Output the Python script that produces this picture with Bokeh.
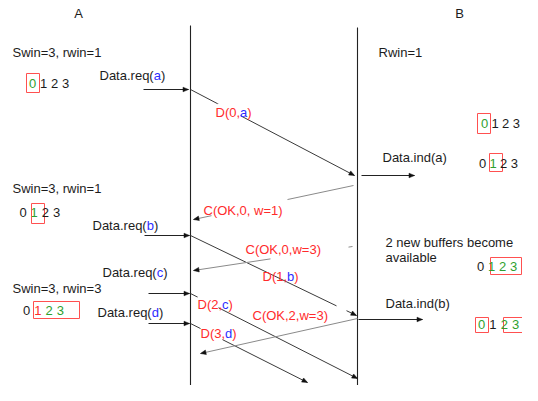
import math
from bokeh.plotting import figure
from bokeh.models import Range1d, ColumnDataSource
from bokeh.core.properties import value
from bokeh.embed import file_html
from bokeh.resources import INLINE

# ---------------- content ----------------
lifeline_names = ["A", "B"]
lifeline_x = [190, 357]
lifeline_top = [25, 27]
lifeline_bottom = [398, 402]
name_x = [78, 459]
name_y = [13, 13]

note_text = ["Swin=3, rwin=1", "Rwin=1", "Swin=3, rwin=1",
             "2 new buffers become", "available", "Swin=3, rwin=3"]
note_x = [12, 378, 12, 385, 385, 12]
note_y = [52, 52, 188, 241.5, 257, 288]

# service primitives: {x} marks the blue argument
prim_text = ["Data.req({a})", "Data.ind(a)", "Data.req({b})",
             "Data.req({c})", "Data.ind(b)", "Data.req({d})"]
prim_tx = [99, 382, 92, 102, 385, 97]
prim_ty = [75, 157, 224.5, 272, 303, 312]
prim_x0 = [143, 361, 144, 148, 358, 148]
prim_x1 = [188, 414, 189, 189, 422, 189]
prim_y = [89, 175, 235, 293, 319, 323]

# protocol messages between the lifelines
msg_label = ["D(0,{a})", "C(OK,0, w=1)", "C(OK,0,w=3)", "D(1,{b})",
             "D(2,{c})", "C(OK,2,w=3)", "D(3,{d})"]
msg_kind = ["D", "C", "C", "D", "D", "C", "D"]
msg_x0 = [190, 353, 352, 190, 190, 357, 190]
msg_y0 = [89, 185, 246, 235, 293, 318, 323]
msg_x1 = [354, 193, 193, 356, 357, 200, 307]
msg_y1 = [175, 219, 270, 315, 378, 353, 382]
label_x = [215, 203, 245, 262, 197, 252, 200]
label_y = [112, 210, 248.5, 275.5, 303.5, 315, 332.5]

# opaque label boxes hiding parts of the lines (left, right, top, bottom)
mask_l = [217, 211, 270, 336, 197, 200]
mask_r = [240, 287, 348, 346, 218, 222]
mask_t = [103, 196, 239, 302, 296, 326]
mask_b = [120, 224, 262, 314, 311, 341]

# sequence-number windows: colour code per digit (k black, g green, r red)
row_x0 = [32, 22.5, 26, 484, 482, 480, 481]
row_step = [11, 11.2, 11.3, 10.6, 10.6, 11, 11.4]
row_y = [83, 212, 310, 123, 163, 266, 324]
row_colors = ["gkkk", "kgkk", "krgg", "gkkk", "kgkk", "kggg", "gkgg"]
box_l = [26, 31, 33, 477, 489, 490, 475, 503]
box_r = [39, 44, 79, 490, 502, 521, 488, 540]
box_t = [73, 203, 301, 113, 153, 257, 317, 317]
box_b = [92, 223, 318, 133, 171, 274, 332, 332]
digits = ["0", "1", "2", "3"]

# ---------------- styling ----------------
FONT = value("Liberation Sans")
SIZE = 13
BLACK = "#1c1c1c"
RED = "#ff2b2b"
BLUE = "#2d2dff"
GREEN = "#2f9f2f"
BOXRED = "#ff5050"
COLMAP = {"k": BLACK, "g": GREEN, "r": RED}

W = {' ': 278, '(': 333, ')': 333, ',': 278, '.': 278, '=': 584,
     'C': 722, 'D': 722, 'K': 667, 'O': 778, 'a': 556, 'b': 556, 'c': 500,
     'd': 556, 'e': 556, 'i': 222, 'n': 556, 'q': 556, 'r': 333, 't': 278,
     'w': 722}
for dch in "0123456789":
    W[dch] = 556


def width(s):
    return sum(W.get(ch, 556) for ch in s) * SIZE / 1000.0


def split_markup(markup, base, accent):
    parts, buf = [], ""
    for ch in markup:
        if ch == "{":
            if buf:
                parts.append((buf, base))
            buf = ""
        elif ch == "}":
            parts.append((buf, accent))
            buf = ""
        else:
            buf += ch
    if buf:
        parts.append((buf, base))
    return parts


def head(x0, y0, x1, y1, length=5.5, half=2.3):
    dx, dy = x1 - x0, y1 - y0
    n = math.hypot(dx, dy)
    ux, uy = dx / n, dy / n
    bx, by = x1 - ux * length, y1 - uy * length
    return ([x1, bx - uy * half, bx + uy * half],
            [y1, by + ux * half, by - ux * half])


p = figure(width=522, height=385, x_range=Range1d(0, 522), y_range=Range1d(385, 0),
           output_backend="svg", toolbar_location=None, min_border=0)
p.axis.visible = False
p.grid.visible = False
p.outline_line_color = None
p.background_fill_color = "white"
p.border_fill_color = "white"

# lifelines
p.segment(lifeline_x, lifeline_top, lifeline_x, lifeline_bottom, line_color="#222222", line_width=1.1)

# primitive arrows
p.segment(prim_x0, prim_y, prim_x1, prim_y, line_color="#222222", line_width=1)

# message lines
d_idx = [i for i, k in enumerate(msg_kind) if k == "D"]
c_idx = [i for i, k in enumerate(msg_kind) if k == "C"]
p.segment([msg_x0[i] for i in d_idx], [msg_y0[i] for i in d_idx],
          [msg_x1[i] for i in d_idx], [msg_y1[i] for i in d_idx],
          line_color="#3a3a3a", line_width=1)
p.segment([msg_x0[i] for i in c_idx], [msg_y0[i] for i in c_idx],
          [msg_x1[i] for i in c_idx], [msg_y1[i] for i in c_idx],
          line_color="#8a8a8a", line_width=1)

# arrowheads
hx, hy = [], []
for x0, x1, y in zip(prim_x0, prim_x1, prim_y):
    a, b = head(x0, y, x1, y)
    hx.append(a); hy.append(b)
for x0, y0, x1, y1 in zip(msg_x0, msg_y0, msg_x1, msg_y1):
    a, b = head(x0, y0, x1, y1)
    hx.append(a); hy.append(b)
p.patches(hx, hy, fill_color="#111111", line_color="#111111", line_width=0.5)

# masks (opaque text boxes)
p.quad(left=mask_l, right=mask_r, top=mask_t, bottom=mask_b,
       fill_color="white", line_color=None)

# window boxes
p.quad(left=box_l, right=box_r, top=box_t, bottom=box_b,
       fill_color=None, line_color=BOXRED, line_width=1)

# collect texts
tx, ty, tt, tc = [], [], [], []
for s, x, y in zip(note_text, note_x, note_y):
    tx.append(x); ty.append(y); tt.append(s); tc.append(BLACK)
for s, x, y in zip(prim_text, prim_tx, prim_ty):
    cx = x
    for seg, col in split_markup(s, BLACK, BLUE):
        tx.append(cx); ty.append(y); tt.append(seg); tc.append(col)
        cx += width(seg)
for s, x, y in zip(msg_label, label_x, label_y):
    cx = x
    for seg, col in split_markup(s, RED, BLUE):
        tx.append(cx); ty.append(y); tt.append(seg); tc.append(col)
        cx += width(seg)

src = ColumnDataSource(dict(x=tx, y=ty, text=tt, color=tc))
p.text(x="x", y="y", text="text", text_color="color", source=src,
       text_font=FONT, text_font_size=f"{SIZE}px",
       text_align="left", text_baseline="middle")

# digit rows
dx_, dy_, dt_, dc_ = [], [], [], []
for x0, st, y, cols in zip(row_x0, row_step, row_y, row_colors):
    for i, (dg, cc) in enumerate(zip(digits, cols)):
        dx_.append(x0 + i * st); dy_.append(y); dt_.append(dg); dc_.append(COLMAP[cc])
dsrc = ColumnDataSource(dict(x=dx_, y=dy_, text=dt_, color=dc_))
p.text(x="x", y="y", text="text", text_color="color", source=dsrc,
       text_font=FONT, text_font_size=f"{SIZE}px",
       text_align="center", text_baseline="middle")

# lifeline names
p.text(x=name_x, y=name_y, text=lifeline_names, text_color=BLACK,
       text_font=FONT, text_font_size=f"{SIZE}px",
       text_align="center", text_baseline="middle")

open("out.html", "w").write(file_html(p, INLINE))
